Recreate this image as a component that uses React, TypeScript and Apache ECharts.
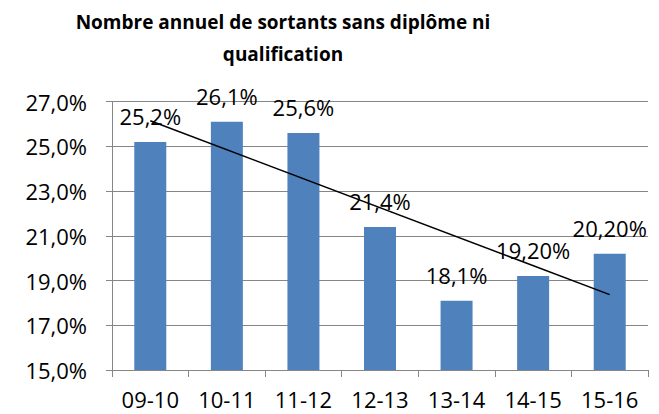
import React, { useEffect, useRef } from "react";
import * as echarts from "echarts";

const categories = ["09-10", "10-11", "11-12", "12-13", "13-14", "14-15", "15-16"];
const values = [25.2, 26.1, 25.6, 21.4, 18.1, 19.2, 20.2];
const valueLabels = ["25,2%", "26,1%", "25,6%", "21,4%", "18,1%", "19,20%", "20,20%"];
// Linear trend line endpoints (first and last category)
const trendValues = [26.15, null, null, null, null, null, 18.37];
const titleLines = ["Nombre annuel de sortants sans diplôme ni", "qualification"];

const FONT = "'Open Sans', sans-serif";
const LABEL_SIZE = 22;

export default function App() {
  const ref = useRef<HTMLDivElement>(null);
  useEffect(() => {
    if (!ref.current) return;
    const chart = echarts.init(ref.current, undefined, { renderer: "svg" });
    chart.setOption({
      animation: false,
      backgroundColor: "#ffffff",
      title: {
        text: titleLines.join("\n"),
        left: 278,
        top: 1,
        textAlign: "center",
        textStyle: {
          fontFamily: FONT,
          fontWeight: "bold",
          fontSize: 19,
          lineHeight: 32,
          color: "#000",
        },
      },
      grid: { left: 112, right: 11, top: 101.7, bottom: 44, containLabel: false },
      xAxis: {
        type: "category",
        data: categories,
        axisLine: { lineStyle: { color: "#868686", width: 1 } },
        axisTick: { show: true, length: 7, lineStyle: { color: "#868686" } },
        axisLabel: {
          color: "#000",
          fontFamily: FONT,
          fontSize: LABEL_SIZE,
          lineHeight: 22,
          margin: 18,
        },
        splitLine: { show: false },
      },
      yAxis: {
        type: "value",
        min: 15,
        max: 27,
        interval: 2,
        axisLine: { show: true, lineStyle: { color: "#868686", width: 1 } },
        axisTick: { show: true, length: 6, lineStyle: { color: "#868686" } },
        axisLabel: {
          color: "#000",
          fontFamily: FONT,
          fontSize: LABEL_SIZE,
          margin: 25,
          formatter: (v: number) => v.toFixed(1).replace(".", ",") + "%",
        },
        splitLine: { show: true, lineStyle: { color: "#868686", width: 1 } },
      },
      series: [
        {
          type: "bar",
          data: values,
          barWidth: 32,
          itemStyle: { color: "#4F81BD" },
          label: {
            show: true,
            position: "top",
            distance: 15,
            color: "#000",
            fontFamily: FONT,
            fontSize: LABEL_SIZE,
            formatter: (p: any) => valueLabels[p.dataIndex],
          },
          z: 2,
        },
        {
          type: "line",
          data: trendValues,
          connectNulls: true,
          symbol: "none",
          lineStyle: { color: "#000", width: 1.5 },
          z: 3,
        },
      ],
    });
    return () => chart.dispose();
  }, []);
  return (
    <div
      ref={ref}
      style={{ position: "fixed", left: 0, top: 0, width: 659, height: 414 }}
    />
  );
}
